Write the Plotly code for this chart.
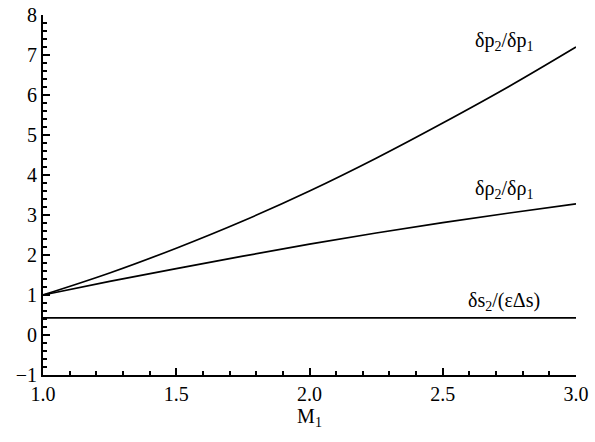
import plotly.graph_objects as go

mach = [1.0, 1.25, 1.5, 1.75, 2.0, 2.25, 2.5, 2.75, 3.0]
pressure_ratio = [1.0, 1.55, 2.17, 2.85, 3.6, 4.42, 5.3, 6.22, 7.2]
density_ratio = [1.0, 1.34, 1.66, 1.97, 2.27, 2.55, 2.81, 3.05, 3.28]
entropy_ratio = [0.43] * len(mach)

labels = [
    ("δp<sub>2</sub>/δp<sub>1</sub>", 2.73, 7.33),
    ("δρ<sub>2</sub>/δρ<sub>1</sub>", 2.73, 3.63),
    ("δs<sub>2</sub>/(εΔs)", 2.73, 0.83),
]

font = "Liberation Serif"
fig = go.Figure()
for ys in (pressure_ratio, density_ratio, entropy_ratio):
    fig.add_trace(go.Scatter(x=mach, y=ys, mode="lines",
                             line=dict(color="black", width=1.7, shape="spline"),
                             showlegend=False, hoverinfo="skip"))

for txt, x, y in labels:
    fig.add_annotation(x=x, y=y, text=txt, showarrow=False,
                       font=dict(family=font, size=20, color="black"))

axis_common = dict(showline=True, linecolor="black", linewidth=2, ticks="inside",
                   tickcolor="black", ticklen=7, tickwidth=1.5, showgrid=False,
                   zeroline=False, mirror=False, ticklabeloverflow="allow",
                   tickfont=dict(family=font, size=20, color="black"))

fig.update_xaxes(range=[1.0, 3.0], dtick=0.5, tickformat=".1f",
                 minor=dict(dtick=0.1, ticks="inside", ticklen=4, tickcolor="black"),
                 title=dict(text="M<sub>1</sub>", font=dict(family=font, size=20, color="black"),
                            standoff=0),
                 automargin=False,
                 **axis_common)
fig.update_yaxes(range=[-1, 8], dtick=1,
                 minor=dict(dtick=0.2, ticks="inside", ticklen=4, tickcolor="black"),
                 automargin=False,
                 **axis_common)

fig.update_layout(width=595, height=442, plot_bgcolor="white", paper_bgcolor="white",
                  font=dict(family=font, size=20, color="black"),
                  margin=dict(l=43, r=19, t=15, b=67))
fig.write_html("out.html", config={"displayModeBar": False},
               post_script="document.body.style.margin='0';document.body.style.overflow='hidden';")
